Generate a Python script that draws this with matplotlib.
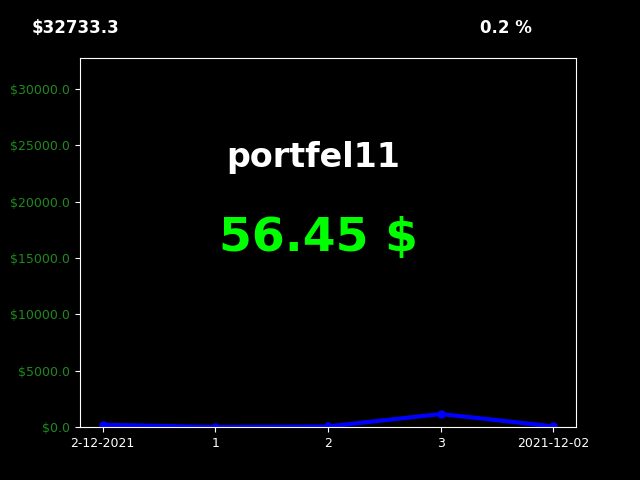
import matplotlib
matplotlib.use("Agg")
import matplotlib.pyplot as plt
import matplotlib.ticker as tck

x_labels = ["2-12-2021", "1", "2", "3", "2021-12-02"]
values = [200, 0, 50, 1150, 56.45]
total = "$32733.3"
change = "0.2 %"
name = "portfel11"
current = "56.45 $"

fig = plt.figure(figsize=(6.4, 4.8), dpi=100, facecolor="black")
ax = fig.add_axes([80 / 640, 53 / 480, 496 / 640, 369 / 480], facecolor="black")
ax.plot(range(len(values)), values, color="blue", linewidth=3, marker="o", markersize=5)
ax.set_xlim(-0.2, len(values) - 0.8)
ax.set_ylim(0, 32733.3)
ax.set_xticks(range(len(values)))
ax.set_xticklabels(x_labels)
ax.yaxis.set_major_formatter(tck.FuncFormatter(lambda v, p: "$%.1f" % v))
ax.tick_params(axis="x", colors="white", labelsize=9)
ax.tick_params(axis="y", colors="white", labelcolor="#1e8a1e", labelsize=9)
for s in ax.spines.values():
    s.set_color("white")

fig.text(32 / 640, 1 - 28 / 480, total, color="white", fontsize=12, fontweight="bold", va="center")
fig.text(480 / 640, 1 - 28 / 480, change, color="white", fontsize=12, fontweight="bold", va="center")
ax.text(0.47, 0.73, name, transform=ax.transAxes, color="white", fontsize=24,
        fontweight="bold", ha="center", va="center")
ax.text(0.48, 0.51, current, transform=ax.transAxes, color="#00ff00", fontsize=34,
        fontweight="bold", ha="center", va="center")

fig.savefig("out.png", facecolor="black")
